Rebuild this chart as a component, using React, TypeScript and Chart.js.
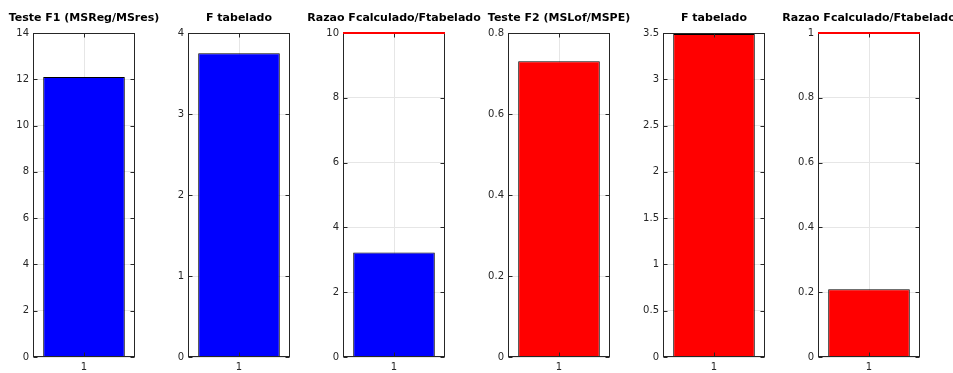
import React, { useEffect, useRef } from "react";
import { Chart, registerables } from "chart.js";

Chart.register(...registerables);

// ---- data ----
const categories = ["1"];
const titles = [
  "Teste F1 (MSReg/MSres)",
  "F tabelado",
  "Razao Fcalculado/Ftabelado",
  "Teste F2 (MSLof/MSPE)",
  "F tabelado",
  "Razao Fcalculado/Ftabelado",
];
const values = [12.1, 3.75, 3.227, 0.73, 3.49, 0.209];
const yMaxes = [14, 4, 10, 0.8, 3.5, 1];
const ySteps = [2, 1, 2, 0.2, 0.5, 0.2];
const refLines: (number | null)[] = [null, null, 10, null, null, 1];
const barColors = ["#0000ff", "#0000ff", "#0000ff", "#ff0000", "#ff0000", "#ff0000"];

// ---- layout ----
const W = 953;
const H = 373;
const plotLefts = [33, 188, 343, 508, 663, 818];
const PLOT_W = 102;
const PLOT_TOP = 33;
const X_AXIS_H = 16;
const Y_AXIS_W = 40;
const FONT = "'DejaVu Sans', Verdana, sans-serif";

const framePlugin = {
  id: "frame",
  afterDatasetsDraw(chart: any, _args: any, opts: any) {
    const { ctx, chartArea: a, scales } = chart;
    const ys = scales.y;
    const xs = scales.x;
    ctx.save();
    ctx.strokeStyle = "#262626";
    ctx.lineWidth = 1;
    const L = Math.round(a.left) + 0.5;
    const R = Math.round(a.right) - 0.5;
    const T = Math.round(a.top) + 0.5;
    const B = Math.round(a.bottom) - 0.5;
    ctx.beginPath();
    ys.ticks.forEach((_t: any, i: number) => {
      const py = Math.round(ys.getPixelForTick(i)) + 0.5;
      ctx.moveTo(L, py);
      ctx.lineTo(L + 4, py);
      ctx.moveTo(R, py);
      ctx.lineTo(R - 4, py);
    });
    const px = Math.round(xs.getPixelForValue(0)) + 0.5;
    ctx.moveTo(px, T);
    ctx.lineTo(px, T + 4);
    ctx.moveTo(px, B);
    ctx.lineTo(px, B - 4);
    ctx.stroke();
    ctx.strokeRect(L, T, R - L, B - T);
    if (opts && opts.ref != null) {
      const py = ys.getPixelForValue(opts.ref);
      ctx.strokeStyle = "#ff0000";
      ctx.lineWidth = 2;
      ctx.beginPath();
      ctx.moveTo(a.left, py);
      ctx.lineTo(a.right, py);
      ctx.stroke();
    }
    if (opts && opts.title) {
      ctx.fillStyle = "#000000";
      ctx.font = `bold 11px ${FONT}`;
      ctx.textAlign = "center";
      ctx.textBaseline = "alphabetic";
      ctx.fillText(opts.title, (a.left + a.right) / 2, 21);
    }
    ctx.restore();
  },
};

const fmt = (v: any) => String(Number(Number(v).toFixed(4)));

function Panel({ idx }: { idx: number }) {
  const ref = useRef<HTMLCanvasElement | null>(null);
  useEffect(() => {
    if (!ref.current) return;
    const left = plotLefts[idx] - Y_AXIS_W;
    const right = W - plotLefts[idx] - PLOT_W;
    const chart = new Chart(ref.current, {
      type: "bar",
      data: {
        labels: categories,
        datasets: [
          {
            data: [values[idx]],
            backgroundColor: barColors[idx],
            borderColor: "#000000",
            borderWidth: 1,
            barPercentage: 0.8,
            categoryPercentage: 1,
          },
        ],
      },
      options: {
        responsive: false,
        animation: false,
        devicePixelRatio: 1,
        layout: { padding: { left, right, top: PLOT_TOP, bottom: 0 } },
        plugins: {
          legend: { display: false },
          tooltip: { enabled: false },
          title: { display: false },
          frame: { ref: refLines[idx], title: titles[idx] },
        } as any,
        scales: {
          x: {
            type: "category",
            offset: true,
            grid: { display: true, offset: false, color: "#e6e6e6", drawTicks: false },
            border: { display: false },
            ticks: { color: "#262626", font: { family: FONT, size: 10 }, padding: 4 },
            afterFit: (s: any) => {
              s.height = X_AXIS_H;
            },
          },
          y: {
            type: "linear",
            min: 0,
            max: yMaxes[idx],
            ticks: {
              stepSize: ySteps[idx],
              color: "#262626",
              font: { family: FONT, size: 10 },
              padding: 4,
              callback: fmt,
            },
            grid: { color: "#e6e6e6", drawTicks: false },
            border: { display: false },
            afterFit: (s: any) => {
              s.width = Y_AXIS_W;
            },
          },
        },
      },
      plugins: [framePlugin],
    });
    return () => chart.destroy();
  }, [idx]);
  return (
    <canvas
      ref={ref}
      width={W}
      height={H}
      style={{ position: "absolute", left: 0, top: 0, width: W, height: H }}
    />
  );
}

export default function App() {
  return (
    <div
      style={{
        position: "absolute",
        left: 0,
        top: 0,
        width: W,
        height: H,
        background: "#ffffff",
        overflow: "hidden",
      }}
    >
      {titles.map((_t, i) => (
        <Panel key={i} idx={i} />
      ))}
    </div>
  );
}
